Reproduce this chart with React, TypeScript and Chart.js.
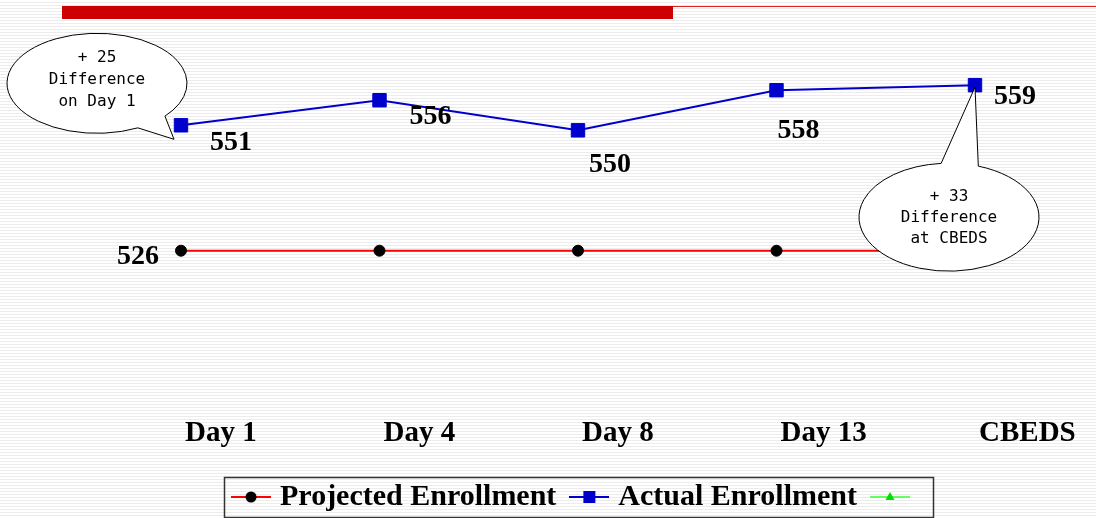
import React, { useEffect, useRef } from "react";
import { Chart, registerables } from "chart.js";

Chart.register(...registerables);

// ---------- data ----------
const categories = ["Day 1", "Day 4", "Day 8", "Day 13", "CBEDS"];
const projectedEnrollment = [526, 526, 526, 526, 526];
const actualEnrollment = [551, 556, 550, 558, 559];
const thirdSeries: (number | null)[] = [];
const seriesLabels = ["Projected Enrollment", "Actual Enrollment", ""];

// which points carry a value label
const projectedLabelIdx = [0];
const actualLabelIdx = [0, 1, 2, 3, 4];

// callout texts
const calloutDay1 = ["+ 25", "Difference", "on Day 1"];
const calloutCbeds = ["+ 33", "Difference", "at CBEDS"];

// ---------- placement (pixels, relative to points) ----------
const actualLabelDx = [50, 51, 32, 22, 40];
const actualLabelDy = [25, 24, 42, 48, 19];
const projectedLabelDx = [-43];
const projectedLabelDy = [13];

const SERIF = '"Liberation Serif", "Times New Roman", serif';
const MONO = '"DejaVu Sans Mono", monospace';

type CalloutGeom = {
  series: number;
  index: number;
  cx: number;
  cy: number;
  rx: number;
  ry: number;
  a0: number;
  a1: number;
  tx: number;
  ty: number;
  lineDy: number[];
  lines: string[];
};

const callouts: CalloutGeom[] = [
  { series: 1, index: 0, cx: -84, cy: -42, rx: 90, ry: 50, a0: 63, a1: 41, tx: -7, ty: 14, lineDy: [-25, -3, 19], lines: calloutDay1 },
  { series: 1, index: 4, cx: -26, cy: 132, rx: 90, ry: 54, a0: 289, a1: 265, tx: 0, ty: 2, lineDy: [-20, 1, 22], lines: calloutCbeds },
];

function makeIcon(kind: number): HTMLCanvasElement {
  const c = document.createElement("canvas");
  c.width = 40;
  c.height = 16;
  const g = c.getContext("2d")!;
  const y = 8;
  if (kind === 0) {
    g.strokeStyle = "#ff0000";
    g.lineWidth = 2;
    g.beginPath(); g.moveTo(0, y); g.lineTo(40, y); g.stroke();
    g.fillStyle = "#000";
    g.beginPath(); g.arc(20, y, 5.5, 0, Math.PI * 2); g.fill();
  } else if (kind === 1) {
    g.strokeStyle = "#0000cc";
    g.lineWidth = 2;
    g.beginPath(); g.moveTo(0, y); g.lineTo(40, y); g.stroke();
    g.fillStyle = "#0000cc";
    g.fillRect(14, y - 6, 12, 12);
  } else {
    g.strokeStyle = "#33ff33";
    g.lineWidth = 1.5;
    g.beginPath(); g.moveTo(0, y); g.lineTo(40, y); g.stroke();
    g.fillStyle = "#00dd00";
    g.beginPath(); g.moveTo(20, y - 5); g.lineTo(24.5, y + 3); g.lineTo(15.5, y + 3); g.closePath(); g.fill();
  }
  return c;
}

const decorPlugin = {
  id: "decor",
  beforeDraw(chart: any) {
    const ctx = chart.ctx;
    ctx.save();
    ctx.fillStyle = "#cc0000";
    ctx.fillRect(62, 6, 611, 13);
    ctx.fillStyle = "#dd2222";
    ctx.fillRect(673, 6, 423, 1);
    ctx.restore();
  },
  afterDatasetsDraw(chart: any) {
    const ctx = chart.ctx;
    ctx.save();
    // callouts
    for (const co of callouts) {
      const pt = chart.getDatasetMeta(co.series).data[co.index];
      const cx = pt.x + co.cx;
      const cy = pt.y + co.cy;
      const r = Math.PI / 180;
      ctx.beginPath();
      ctx.ellipse(cx, cy, co.rx, co.ry, 0, co.a0 * r, co.a1 * r, false);
      ctx.lineTo(pt.x + co.tx, pt.y + co.ty);
      ctx.closePath();
      ctx.fillStyle = "#ffffff";
      ctx.fill();
      ctx.strokeStyle = "#000";
      ctx.lineWidth = 1;
      ctx.stroke();
      ctx.fillStyle = "#000";
      ctx.font = "16px " + MONO;
      ctx.textAlign = "center";
      ctx.textBaseline = "middle";
      co.lines.forEach((t, i) => ctx.fillText(t, cx, cy + co.lineDy[i]));
    }
    // value labels
    ctx.fillStyle = "#000";
    ctx.font = "bold 28px " + SERIF;
    ctx.textAlign = "center";
    ctx.textBaseline = "alphabetic";
    const am = chart.getDatasetMeta(1).data;
    actualLabelIdx.forEach((idx, k) => {
      const p = am[idx];
      ctx.fillText(String(actualEnrollment[idx]), p.x + actualLabelDx[k], p.y + actualLabelDy[k]);
    });
    const pm = chart.getDatasetMeta(0).data;
    projectedLabelIdx.forEach((idx, k) => {
      const p = pm[idx];
      ctx.fillText(String(projectedEnrollment[idx]), p.x + projectedLabelDx[k], p.y + projectedLabelDy[k]);
    });
    ctx.restore();
  },
  afterDraw(chart: any) {
    const lg = chart.legend;
    if (!lg || !lg.legendHitBoxes || !lg.legendHitBoxes.length) return;
    const hb = lg.legendHitBoxes;
    let l = Infinity, r = -Infinity, t = Infinity, b = -Infinity;
    for (const h of hb) {
      l = Math.min(l, h.left);
      r = Math.max(r, h.left + h.width);
      t = Math.min(t, h.top);
      b = Math.max(b, h.top + h.height);
    }
    const ctx = chart.ctx;
    ctx.save();
    ctx.strokeStyle = "#333";
    ctx.lineWidth = 1.5;
    const x0 = Math.round(l - 13);
    const x1 = Math.round(r + 14);
    const y0 = Math.round(t - 5);
    const y1 = Math.round(b + 5);
    ctx.strokeRect(x0 + 0.5, y0 + 0.5, x1 - x0, y1 - y0);
    ctx.restore();
  },
};

export default function App() {
  const ref = useRef<HTMLCanvasElement | null>(null);

  useEffect(() => {
    if (!ref.current) return;
    const icons = [makeIcon(0), makeIcon(1), makeIcon(2)];
    const chart = new Chart(ref.current, {
      type: "line",
      data: {
        labels: categories,
        datasets: [
          {
            label: seriesLabels[0],
            data: projectedEnrollment,
            borderColor: "#ff0000",
            backgroundColor: "#000000",
            borderWidth: 2,
            pointStyle: "circle",
            pointRadius: 5.5,
            pointBorderColor: "#000",
            pointBackgroundColor: "#000",
            pointBorderWidth: 1,
            tension: 0,
          },
          {
            label: seriesLabels[1],
            data: actualEnrollment,
            borderColor: "#0000cc",
            backgroundColor: "#0000cc",
            borderWidth: 2,
            pointStyle: "rect",
            pointRadius: 9.5,
            pointBorderColor: "#0000cc",
            pointBackgroundColor: "#0000cc",
            pointBorderWidth: 1,
            tension: 0,
          },
          {
            label: seriesLabels[2],
            data: thirdSeries,
            borderColor: "#33ff33",
            backgroundColor: "#00dd00",
            borderWidth: 1.5,
            pointStyle: "triangle",
            pointRadius: 4,
          },
        ],
      },
      options: {
        responsive: false,
        animation: false,
        layout: { padding: { left: 181, right: 121, top: 30, bottom: 0 } },
        scales: {
          x: {
            type: "category",
            offset: false,
            grid: { display: false, drawTicks: false },
            border: { display: false },
            ticks: {
              align: "start",
              labelOffset: 4,
              color: "#000",
              padding: 8,
              autoSkip: false,
              maxRotation: 0,
              minRotation: 0,
              font: { family: SERIF, weight: "bold", size: 29 },
            },
            afterFit: (s: any) => {
              s.height += 4;
            },
          },
          y: { display: false, min: 494.6, max: 570 },
        },
        plugins: {
          tooltip: { enabled: false },
          legend: {
            position: "bottom",
            labels: {
              usePointStyle: true,
              pointStyleWidth: 28,
              padding: 19,
              color: "#000",
              font: { family: SERIF, weight: "bold", size: 30 },
              generateLabels: (ch: any) => {
                const items = (Chart.defaults as any).plugins.legend.labels.generateLabels(ch);
                items.forEach((it: any, i: number) => {
                  it.pointStyle = icons[i];
                });
                return items;
              },
            },
          },
        },
      } as any,
      plugins: [decorPlugin],
    });
    return () => chart.destroy();
  }, []);

  return (
    <div
      style={{
        position: "fixed",
        left: 0,
        top: 0,
        width: 1096,
        height: 518,
        overflow: "hidden",
        background:
          "repeating-linear-gradient(to bottom, #ffffff 0px, #ffffff 2px, #ececec 2px, #ececec 3px)",
      }}
    >
      <canvas ref={ref} width={1096} height={522} style={{ display: "block" }} />
    </div>
  );
}
